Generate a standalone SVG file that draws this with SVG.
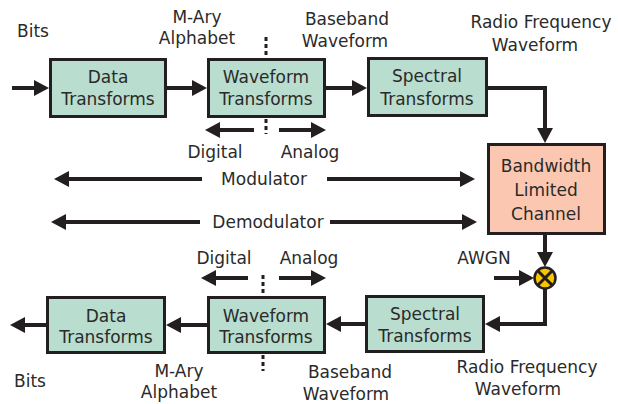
<svg xmlns="http://www.w3.org/2000/svg" width="618" height="404" viewBox="0 0 618 404">
  <style>
    .box { fill: #b9ddce; stroke: #231f20; stroke-width: 3; }
    .chan { fill: #fcc7b0; stroke: #231f20; stroke-width: 3; }
    .lbl { font-family: "DejaVu Sans", "Liberation Sans", sans-serif; font-size: 17px; fill: #2a2a2a; text-anchor: middle; }
    .wire { fill: none; stroke: #231f20; stroke-width: 4; marker-end: url(#head); }
    .dots { stroke: #231f20; stroke-width: 3; stroke-dasharray: 4 3; }
  </style>
  <defs>
    <marker id="head" markerUnits="userSpaceOnUse" markerWidth="16" markerHeight="16" refX="10" refY="8" orient="auto">
      <path d="M0,0 L15,8 L0,16 z" fill="#231f20"/>
    </marker>
  </defs>

  <rect width="618" height="404" fill="#ffffff"/>

  <!-- connectors -->
  <g id="connectors">
    <line class="wire" x1="12" y1="88" x2="44" y2="88"/>
    <line class="wire" x1="167" y1="88" x2="202" y2="88"/>
    <line class="wire" x1="326" y1="88" x2="362" y2="88"/>
    <path class="wire" d="M488,88 H545 V138"/>
    <line class="wire" x1="545" y1="235" x2="545" y2="262"/>
    <line class="wire" x1="494" y1="278" x2="529" y2="278"/>
    <path class="wire" d="M545,289 V324 H490"/>
    <line class="wire" x1="365" y1="324" x2="331" y2="324"/>
    <line class="wire" x1="207" y1="325" x2="171" y2="325"/>
    <line class="wire" x1="46" y1="325" x2="15" y2="325"/>

    <!-- digital / analog split, transmitter -->
    <line class="dots" x1="266" y1="37" x2="266" y2="58"/>
    <line class="dots" x1="266" y1="119" x2="266" y2="134"/>
    <line class="wire" x1="254" y1="130" x2="210" y2="130"/>
    <line class="wire" x1="279" y1="130" x2="321" y2="130"/>

    <!-- digital / analog split, receiver -->
    <line class="dots" x1="263" y1="275" x2="263" y2="296"/>
    <line class="dots" x1="263" y1="355" x2="263" y2="371"/>
    <line class="wire" x1="248" y1="278" x2="206" y2="278"/>
    <line class="wire" x1="279" y1="278" x2="321" y2="278"/>

    <!-- modulator / demodulator spans -->
    <line class="wire" x1="202" y1="179" x2="59" y2="179"/>
    <line class="wire" x1="327" y1="179" x2="470" y2="179"/>
    <line class="wire" x1="200" y1="222" x2="56" y2="222"/>
    <line class="wire" x1="330" y1="222" x2="472" y2="222"/>
  </g>

  <!-- transmitter chain -->
  <g id="tx-data">
    <rect class="box" x="50.5" y="59.5" width="115" height="57"/>
    <text class="lbl" x="108" y="83">Data</text>
    <text class="lbl" x="108" y="105">Transforms</text>
  </g>
  <g id="tx-waveform">
    <rect class="box" x="208.5" y="59.5" width="116" height="57"/>
    <text class="lbl" x="266" y="83">Waveform</text>
    <text class="lbl" x="266" y="105">Transforms</text>
  </g>
  <g id="tx-spectral">
    <rect class="box" x="368.5" y="58.5" width="118" height="57"/>
    <text class="lbl" x="427" y="82">Spectral</text>
    <text class="lbl" x="427" y="105">Transforms</text>
  </g>

  <!-- channel -->
  <g id="channel">
    <rect class="chan" x="488.5" y="144.5" width="116" height="89"/>
    <text class="lbl" x="546" y="172">Bandwidth</text>
    <text class="lbl" x="546" y="196">Limited</text>
    <text class="lbl" x="546" y="220">Channel</text>
  </g>

  <!-- noise summing junction -->
  <g id="adder">
    <circle cx="545" cy="278" r="10.5" fill="#f7c600" stroke="#231f20" stroke-width="2.5"/>
    <path d="M538,271 L552,285 M552,271 L538,285" stroke="#231f20" stroke-width="3"/>
  </g>

  <!-- receiver chain -->
  <g id="rx-spectral">
    <rect class="box" x="366.5" y="296.5" width="117" height="55"/>
    <text class="lbl" x="425" y="320">Spectral</text>
    <text class="lbl" x="425" y="342">Transforms</text>
  </g>
  <g id="rx-waveform">
    <rect class="box" x="208.5" y="297.5" width="116" height="55"/>
    <text class="lbl" x="266" y="322">Waveform</text>
    <text class="lbl" x="266" y="343">Transforms</text>
  </g>
  <g id="rx-data">
    <rect class="box" x="47.5" y="297.5" width="117" height="55"/>
    <text class="lbl" x="106" y="322">Data</text>
    <text class="lbl" x="106" y="343">Transforms</text>
  </g>

  <!-- signal labels -->
  <g id="labels">
    <text class="lbl" x="33" y="37">Bits</text>
    <text class="lbl" x="197" y="23">M-Ary</text>
    <text class="lbl" x="197" y="44">Alphabet</text>
    <text class="lbl" x="347" y="25">Baseband</text>
    <text class="lbl" x="345" y="47">Waveform</text>
    <text class="lbl" x="541" y="28">Radio Frequency</text>
    <text class="lbl" x="535" y="51">Waveform</text>
    <text class="lbl" x="215" y="158">Digital</text>
    <text class="lbl" x="310" y="158">Analog</text>

    <text class="lbl" x="264" y="185">Modulator</text>
    <text class="lbl" x="268" y="228">Demodulator</text>

    <text class="lbl" x="484" y="264">AWGN</text>
    <text class="lbl" x="224" y="264">Digital</text>
    <text class="lbl" x="309" y="264">Analog</text>

    <text class="lbl" x="30" y="387">Bits</text>
    <text class="lbl" x="179" y="377">M-Ary</text>
    <text class="lbl" x="179" y="398">Alphabet</text>
    <text class="lbl" x="350" y="378">Baseband</text>
    <text class="lbl" x="346" y="400">Waveform</text>
    <text class="lbl" x="527" y="373">Radio Frequency</text>
    <text class="lbl" x="518" y="395">Waveform</text>
  </g>
</svg>
